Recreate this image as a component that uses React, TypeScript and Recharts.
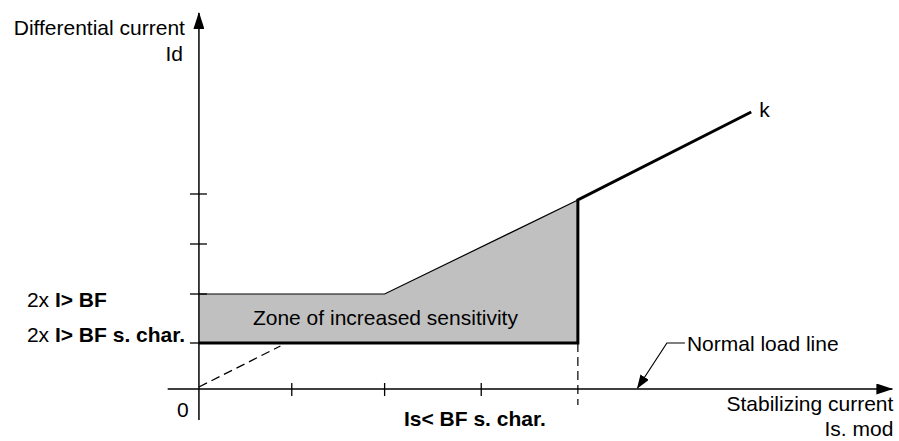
import { ComposedChart, Line, Area, XAxis, YAxis, ReferenceDot } from 'recharts';

const FONT = '"Liberation Sans", Arial, Helvetica, sans-serif';
const INK = '#000000';

// Stabilizing current (x) and differential current (y), in tick units
const xTicks = [0.98, 1.96, 2.98];
const yTicks = [0.92, 1.9, 2.9, 3.9];

const sensChar = 0.92; // 2x I> BF s. char.
const bfLevel = 1.9; // 2x I> BF
const kneeX = 1.96;
const limitX = 4; // Is< BF s. char.
const limitTop = 3.78;
const kEnd = { x: 5.83, y: 5.54 };

const zoneData = [
  { x: 0, zone: [sensChar, bfLevel] },
  { x: kneeX, zone: [sensChar, bfLevel] },
  { x: limitX, zone: [sensChar, limitTop] },
];
const upperBound = [
  { x: 0, y: bfLevel },
  { x: kneeX, y: bfLevel },
  { x: limitX, y: limitTop },
];
const characteristic = [
  { x: 0, y: sensChar },
  { x: limitX, y: sensChar },
  { x: limitX, y: limitTop },
  kEnd,
];
const originLine = [
  { x: 0, y: 0.04 },
  { x: 0.86, y: 0.86 },
];
const limitLine = [
  { x: limitX, y: sensChar },
  { x: limitX, y: -0.32 },
];
const loadLeader = [
  { x: 4.63, y: 0.02 },
  { x: 4.94, y: 0.92 },
  { x: 5.13, y: 0.92 },
];
const xAxisLine = [
  { x: -0.33, y: 0 },
  { x: 7.32, y: 0 },
];
const yAxisLine = [
  { x: 0, y: -0.62 },
  { x: 0, y: 7.52 },
];

type Part = { t: string; b?: boolean };
type Lbl = { x: number; y: number; dx: number; dy: number; anchor: 'start' | 'middle' | 'end'; parts: Part[] };

const labels: Lbl[] = [
  { x: 0, y: 7.52, dx: -14, dy: 22, anchor: 'end', parts: [{ t: 'Differential current' }] },
  { x: 0, y: 7.52, dx: -16, dy: 48, anchor: 'end', parts: [{ t: 'Id' }] },
  { x: 0, y: bfLevel, dx: -172, dy: 13, anchor: 'start', parts: [{ t: '2x ' }, { t: 'I> BF', b: true }] },
  { x: 0, y: sensChar, dx: -172, dy: -1, anchor: 'start', parts: [{ t: '2x ' }, { t: 'I> BF s. char.', b: true }] },
  { x: 0, y: 0, dx: -16, dy: 28, anchor: 'middle', parts: [{ t: '0' }] },
  { x: limitX, y: 0, dx: -103, dy: 37, anchor: 'middle', parts: [{ t: 'Is< BF s. char.', b: true }] },
  { x: 0, y: sensChar, dx: 54, dy: -18, anchor: 'start', parts: [{ t: 'Zone of increased sensitivity' }] },
  { x: kEnd.x, y: kEnd.y, dx: 8, dy: 5, anchor: 'start', parts: [{ t: 'k' }] },
  { x: 5.13, y: 0.92, dx: 2, dy: 8, anchor: 'start', parts: [{ t: 'Normal load line' }] },
  { x: 7.32, y: 0, dx: 1, dy: 22, anchor: 'end', parts: [{ t: 'Stabilizing current' }] },
  { x: 7.32, y: 0, dx: 1, dy: 47, anchor: 'end', parts: [{ t: 'Is. mod' }] },
];

const plain = { isAnimationActive: false, dot: false, activeDot: false, type: 'linear' as const, dataKey: 'y' };

export default function App() {
  return (
    <div style={{ position: 'absolute', left: 0, top: 0, background: '#fff' }}>
      <ComposedChart width={899} height={441} margin={{ top: 0, right: 0, bottom: 0, left: 0 }}>
        <defs>
          <marker
            id="axisArrow"
            viewBox="0 0 17 11"
            refX="16"
            refY="5.5"
            markerWidth="17"
            markerHeight="11"
            markerUnits="userSpaceOnUse"
            orient="auto-start-reverse"
          >
            <path d="M0,0 L17,5.5 L0,11 z" fill={INK} />
          </marker>
          <marker
            id="leaderArrow"
            viewBox="0 0 14 10"
            refX="13"
            refY="5"
            markerWidth="14"
            markerHeight="10"
            markerUnits="userSpaceOnUse"
            orient="auto-start-reverse"
          >
            <path d="M0,0 L14,5 L0,10 z" fill={INK} />
          </marker>
        </defs>
        <XAxis type="number" dataKey="x" domain={[-2.1, 7.39]} allowDataOverflow hide scale="linear" />
        <YAxis type="number" domain={[-1.04, 7.78]} allowDataOverflow hide scale="linear" />

        <Area
          data={zoneData}
          dataKey="zone"
          type="linear"
          stroke="none"
          fill="#c0c0c0"
          fillOpacity={1}
          isAnimationActive={false}
          activeDot={false}
        />
        <Line {...plain} data={upperBound} stroke={INK} strokeWidth={1.2} />
        <Line {...plain} data={originLine} stroke={INK} strokeWidth={1.3} strokeDasharray="9 5" />
        <Line {...plain} data={limitLine} stroke={INK} strokeWidth={1.2} strokeDasharray="9 5" />
        <Line {...plain} data={xAxisLine} stroke={INK} strokeWidth={1.5} markerEnd="url(#axisArrow)" />
        <Line {...plain} data={yAxisLine} stroke={INK} strokeWidth={1.5} markerEnd="url(#axisArrow)" />
        <Line {...plain} data={characteristic} stroke={INK} strokeWidth={3} strokeLinejoin="miter" />
        <Line {...plain} data={loadLeader} stroke={INK} strokeWidth={1.2} markerStart="url(#leaderArrow)" />

        {yTicks.map((v) => (
          <ReferenceDot
            key={'yt' + v}
            x={0}
            y={v}
            r={0}
            shape={(p: any) => (
              <line x1={p.cx - 9} x2={p.cx + 8} y1={p.cy} y2={p.cy} stroke={INK} strokeWidth={1.3} />
            )}
          />
        ))}
        {xTicks.map((v) => (
          <ReferenceDot
            key={'xt' + v}
            x={v}
            y={0}
            r={0}
            shape={(p: any) => (
              <line x1={p.cx} x2={p.cx} y1={p.cy - 6} y2={p.cy + 7} stroke={INK} strokeWidth={1.3} />
            )}
          />
        ))}

        {labels.map((l, i) => (
          <ReferenceDot
            key={'lbl' + i}
            x={l.x}
            y={l.y}
            r={0}
            shape={(p: any) => (
              <text
                x={p.cx + l.dx}
                y={p.cy + l.dy}
                textAnchor={l.anchor}
                fontFamily={FONT}
                fontSize={21}
                fill={INK}
              >
                {l.parts.map((part, j) => (
                  <tspan key={j} fontWeight={part.b ? 'bold' : 'normal'}>
                    {part.t}
                  </tspan>
                ))}
              </text>
            )}
          />
        ))}
      </ComposedChart>
    </div>
  );
}
